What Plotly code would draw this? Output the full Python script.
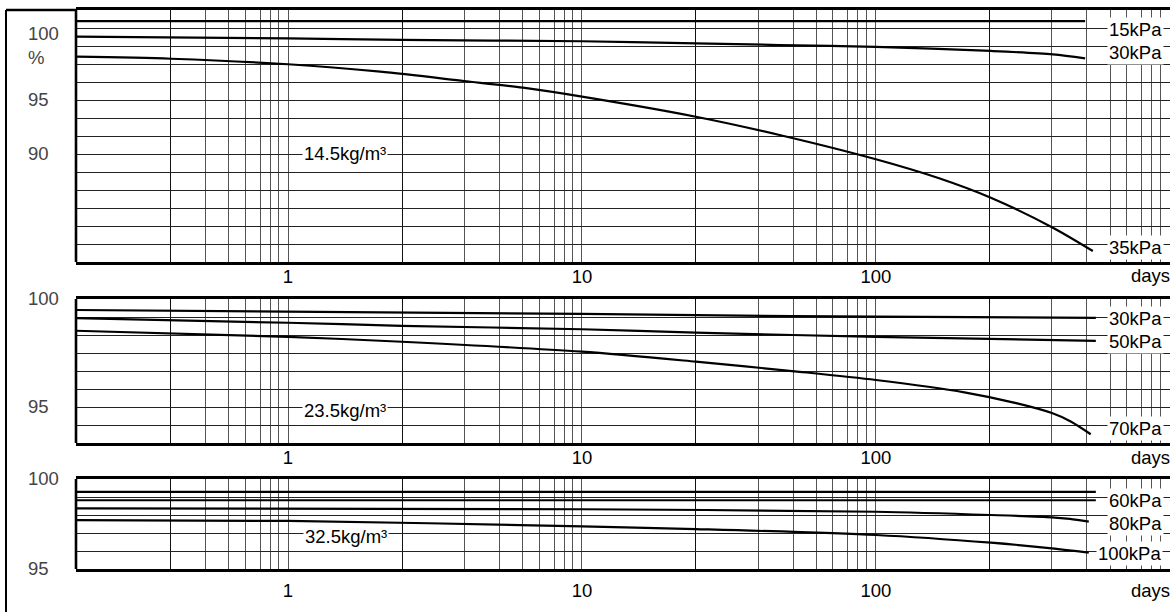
import plotly.graph_objects as go

W, H = 1173, 612

# ---------------- data ----------------
X_TICK_VALUES = [1, 10, 100]
X_TICK_LABELS = ["1", "10", "100"]
X_UNIT = "days"

# Panel 1 : 14.5 kg/m3
P1_DENSITY = "14.5kg/m³"
P1_YTICK_VALUES = [100, 95, 90]
P1_YTICK_LABELS = ["100<br>%", "95", "90"]
P1_15_NAME = "15kPa"
P1_15_DAYS = [0.19, 1, 10, 100, 515]
P1_15_VALS = [102.3, 102.3, 102.3, 102.3, 102.3]
P1_30_NAME = "30kPa"
P1_30_DAYS = [0.19, 1, 2.44, 10, 24.4, 47, 100, 246, 400, 515]
P1_30_VALS = [100.86, 100.71, 100.56, 100.44, 100.25, 100.09, 99.91, 99.54, 99.23, 98.86]
P1_35_NAME = "35kPa"
P1_35_DAYS = [0.19, 0.4, 1, 2.06, 3.97, 6.3, 10, 24.4, 47, 100, 165, 246, 400, 547]
P1_35_VALS = [99.01, 98.82, 98.31, 97.62, 96.76, 96.14, 95.31, 93.45, 91.76, 89.51, 87.73, 85.95, 83.18, 81.02]

# Panel 2 : 23.5 kg/m3
P2_DENSITY = "23.5kg/m³"
P2_YTICK_VALUES = [100, 95]
P2_YTICK_LABELS = ["100", "95"]
P2_30_NAME = "30kPa"
P2_30_DAYS = [0.19, 10, 24.4, 100, 560]
P2_30_VALS = [99.49, 99.31, 99.25, 99.18, 99.13]
P2_50_NAME = "50kPa"
P2_50_DAYS = [0.19, 1, 2.44, 10, 24.4, 100, 560]
P2_50_VALS = [99.11, 98.90, 98.76, 98.60, 98.44, 98.25, 98.06]
P2_70_NAME = "70kPa"
P2_70_DAYS = [0.19, 1, 2.44, 10, 24.4, 55, 100, 200, 300, 397, 460, 538]
P2_70_VALS = [98.53, 98.25, 98.02, 97.56, 97.10, 96.63, 96.25, 95.68, 95.18, 94.72, 94.33, 93.74]

# Panel 3 : 32.5 kg/m3
P3_DENSITY = "32.5kg/m³"
P3_YTICK_VALUES = [100, 95]
P3_YTICK_LABELS = ["100", "95"]
P3_TOP_DAYS = [0.19, 560]          # unlabelled upper line
P3_TOP_VALS = [99.29, 99.29]
P3_60_NAME = "60kPa"
P3_60_DAYS = [0.19, 560]
P3_60_VALS = [98.82, 98.82]
P3_80_NAME = "80kPa"
P3_80_DAYS = [0.19, 10, 100, 246, 397, 457, 530]
P3_80_VALS = [98.37, 98.32, 98.18, 98.00, 97.87, 97.78, 97.63]
P3_100_NAME = "100kPa"
P3_100_DAYS = [0.19, 1, 10, 24.4, 100, 246, 397, 530]
P3_100_VALS = [97.72, 97.67, 97.37, 97.22, 96.89, 96.46, 96.15, 95.91]

# ---------------- styling / layout helpers ----------------
FONT = "Liberation Sans, Arial, Helvetica, sans-serif"
FS = 18.5
def px_x(p):
    return p / W
def px_y(p):
    return 1 - p / H

X_DOM = [px_x(76), px_x(1170)]
X_RANGE = [-0.7212, 3.0005]
# vertical grid: decade pattern as drawn in the original (first line of each group drawn darker)
GRID_MANT = [2.443, 3.972, 5.224, 6.295, 7.145, 8.035, 8.690, 9.311, 10.0]
DARK_MANT = [2.443, 3.972]
x_grid, x_dark = [], []
for d in [-1, 0, 1, 2]:
    for m in GRID_MANT:
        v = m * 10 ** d
        if v > 0.3:
            first = (d == -1 and m == 3.972) or (d >= 0 and m == 2.443)
            (x_dark if first else x_grid).append(round(v, 5))
x_text = []
for v in x_grid:
    lab = ""
    for tv, tl in zip(X_TICK_VALUES, X_TICK_LABELS):
        if abs(v - tv) < 1e-6 * tv:
            lab = tl
    x_text.append(lab)

panels = [
    dict(top=10, bottom=262, rng=[80, 80 + 14 * 5 / 3], step=5 / 3,
         tv=P1_YTICK_VALUES, tt=P1_YTICK_LABELS, standoff=-4, unit_y=276),
    dict(top=299, bottom=443, rng=[100 - 8 * 5 / 6, 100], step=5 / 6,
         tv=P2_YTICK_VALUES, tt=P2_YTICK_LABELS, standoff=-4, unit_y=457),
    dict(top=479, bottom=569, rng=[95, 100], step=1.0,
         tv=P3_YTICK_VALUES, tt=P3_YTICK_LABELS, standoff=3, unit_y=590),
]

fig = go.Figure()

series = [
    (1, P1_15_DAYS, P1_15_VALS, P1_15_NAME),
    (1, P1_30_DAYS, P1_30_VALS, P1_30_NAME),
    (1, P1_35_DAYS, P1_35_VALS, P1_35_NAME),
    (2, P2_30_DAYS, P2_30_VALS, P2_30_NAME),
    (2, P2_50_DAYS, P2_50_VALS, P2_50_NAME),
    (2, P2_70_DAYS, P2_70_VALS, P2_70_NAME),
    (3, P3_TOP_DAYS, P3_TOP_VALS, "upper"),
    (3, P3_60_DAYS, P3_60_VALS, P3_60_NAME),
    (3, P3_80_DAYS, P3_80_VALS, P3_80_NAME),
    (3, P3_100_DAYS, P3_100_VALS, P3_100_NAME),
]
for i, xs, ys, nm in series:
    sfx = "" if i == 1 else str(i)
    fig.add_trace(go.Scatter(x=xs, y=ys, name=nm, mode="lines",
                             line=dict(color="black", width=2.2, shape="spline", smoothing=0.8),
                             xaxis="x" + sfx, yaxis="y" + sfx, showlegend=False,
                             hoverinfo="skip"))

layout = dict(width=W, height=H, autosize=False, margin=dict(l=0, r=0, t=0, b=0, pad=0),
              paper_bgcolor="white", plot_bgcolor="white",
              font=dict(family=FONT, size=FS, color="black"), showlegend=False)
shapes = []
annotations = []
for k, p in enumerate(panels, start=1):
    sfx = "" if k == 1 else str(k)
    ydom = [px_y(p["bottom"]), px_y(p["top"])]
    nsteps = int(round((p["rng"][1] - p["rng"][0]) / p["step"]))
    ygrid = [p["rng"][0] + j * p["step"] for j in range(nsteps + 1)]
    ytext = []
    for v in ygrid:
        lab = ""
        for tv, tl in zip(p["tv"], p["tt"]):
            if abs(v - tv) < 1e-6:
                lab = tl
        ytext.append(lab)
    layout["xaxis" + sfx] = dict(domain=X_DOM, type="log", range=X_RANGE, anchor="y" + sfx,
                                 tickmode="array", tickvals=x_grid, ticktext=x_text,
                                 showgrid=True, gridcolor="#555555", gridwidth=1,
                                 minor=dict(tickmode="array", tickvals=x_dark, showgrid=True,
                                            gridcolor="#111111", gridwidth=1.2, ticks=""),
                                 showline=True, mirror=True, linecolor="black", linewidth=2.6,
                                 ticks="", zeroline=False, ticklabelstandoff=p["standoff"],
                                 automargin=False, tickfont=dict(size=FS))
    layout["yaxis" + sfx] = dict(domain=ydom, range=p["rng"], anchor="free", position=px_x(24),
                                 side="left", ticklabelposition="inside", ticklabeloverflow="allow",
                                 tickmode="array", tickvals=ygrid, ticktext=ytext,
                                 showgrid=True, gridcolor="#222222", gridwidth=1,
                                 showline=False, ticks="", zeroline=False,
                                 automargin=False, tickfont=dict(size=FS))
    # left panel border
    shapes.append(dict(type="line", xref="paper", yref="paper", x0=X_DOM[0], x1=X_DOM[0],
                       y0=ydom[0], y1=ydom[1], line=dict(color="black", width=2.6)))
    # unit label at the right end of each x axis
    annotations.append(dict(text=X_UNIT, xref="paper", yref="paper", x=px_x(1172), y=px_y(p["unit_y"]),
                            xanchor="right", yanchor="middle", showarrow=False,
                            font=dict(size=FS)))

# outer frame (left and top)
shapes.append(dict(type="line", xref="paper", yref="paper", x0=px_x(6), x1=px_x(6),
                   y0=0, y1=px_y(10), line=dict(color="black", width=2)))
shapes.append(dict(type="line", xref="paper", yref="paper", x0=px_x(6), x1=px_x(76),
                   y0=px_y(10), y1=px_y(10), line=dict(color="black", width=2.6)))

def label(text, cx, cy, anchor="center"):
    annotations.append(dict(text=text, xref="paper", yref="paper", x=px_x(cx), y=px_y(cy),
                            xanchor=anchor, yanchor="middle", showarrow=False,
                            bgcolor="white", borderpad=1, font=dict(size=FS)))

label(P1_15_NAME, 1135, 29)
label(P1_30_NAME, 1135, 52)
label(P1_35_NAME, 1135, 247)
label(P1_DENSITY, 345, 153)
label(P2_30_NAME, 1135, 318)
label(P2_50_NAME, 1135, 341.5)
label(P2_70_NAME, 1135, 428)
label(P2_DENSITY, 345, 411)
label(P3_60_NAME, 1135, 500)
label(P3_80_NAME, 1135, 523.5)
label(P3_100_NAME, 1129, 553.5)
label(P3_DENSITY, 346, 536)

layout["shapes"] = shapes
layout["annotations"] = annotations
fig.update_layout(**layout)
fig.write_html("out.html", config={"displayModeBar": False},
               post_script="document.body.style.margin='0px';document.body.style.overflow='hidden';")
